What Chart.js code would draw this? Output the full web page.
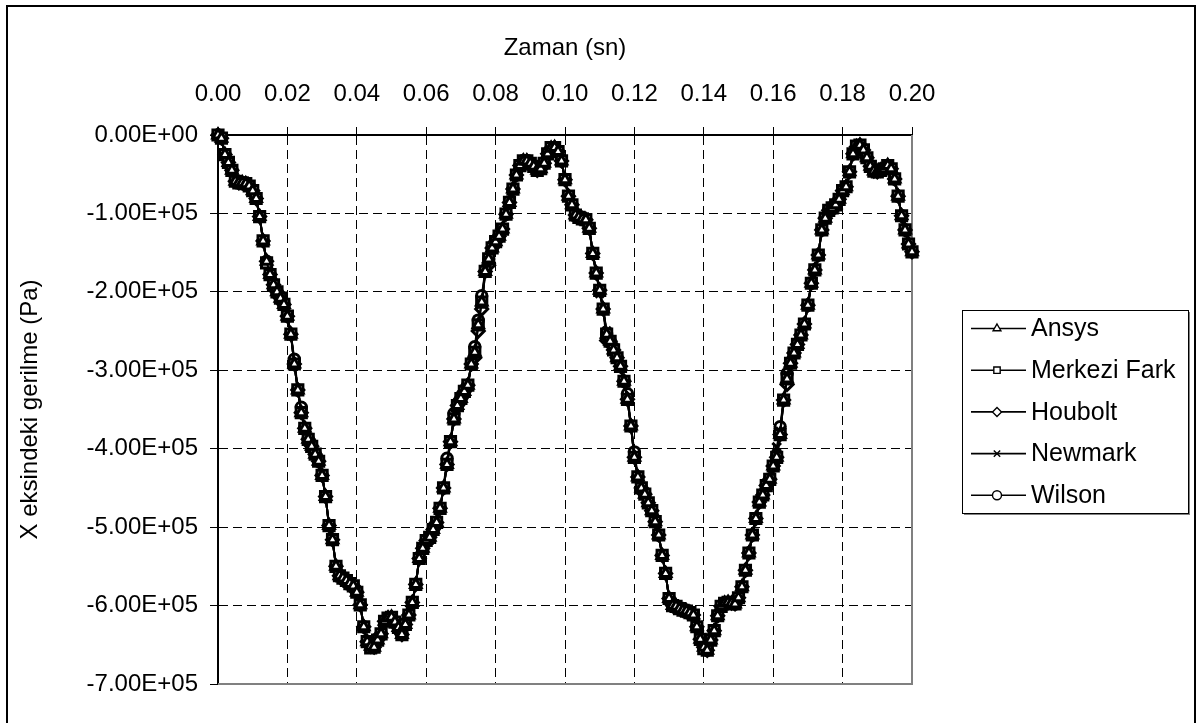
<!DOCTYPE html>
<html>
<head>
<meta charset="utf-8">
<script src="https://cdn.jsdelivr.net/npm/chart.js@4"></script>
<style>
  html, body { margin: 0; padding: 0; background: #fff; }
  #wrap { width: 1200px; height: 723px; position: relative; }
</style>
</head>
<body>
<div id="wrap"><canvas id="c" width="1200" height="723"></canvas></div>
<script>
const xTitle = 'Zaman (sn)';
const yTitle = 'X eksindeki gerilme (Pa)';
const xTickLabels = ['0.00','0.02','0.04','0.06','0.08','0.10','0.12','0.14','0.16','0.18','0.20'];
const yTickLabels = ['0.00E+00','-1.00E+05','-2.00E+05','-3.00E+05','-4.00E+05','-5.00E+05','-6.00E+05','-7.00E+05'];
const seriesNames = ['Ansys','Merkezi Fark','Houbolt','Newmark','Wilson'];
const markerStyles = ['triangle','rect','rectRot','crossRot','circle'];

// time (s), one sample every 0.001 s
const times = [
  0.000,0.001,0.002,0.003,0.004,0.005,0.006,0.007,0.008,0.009,
  0.010,0.011,0.012,0.013,0.014,0.015,0.016,0.017,0.018,0.019,
  0.020,0.021,0.022,0.023,0.024,0.025,0.026,0.027,0.028,0.029,
  0.030,0.031,0.032,0.033,0.034,0.035,0.036,0.037,0.038,0.039,
  0.040,0.041,0.042,0.043,0.044,0.045,0.046,0.047,0.048,0.049,
  0.050,0.051,0.052,0.053,0.054,0.055,0.056,0.057,0.058,0.059,
  0.060,0.061,0.062,0.063,0.064,0.065,0.066,0.067,0.068,0.069,
  0.070,0.071,0.072,0.073,0.074,0.075,0.076,0.077,0.078,0.079,
  0.080,0.081,0.082,0.083,0.084,0.085,0.086,0.087,0.088,0.089,
  0.090,0.091,0.092,0.093,0.094,0.095,0.096,0.097,0.098,0.099,
  0.100,0.101,0.102,0.103,0.104,0.105,0.106,0.107,0.108,0.109,
  0.110,0.111,0.112,0.113,0.114,0.115,0.116,0.117,0.118,0.119,
  0.120,0.121,0.122,0.123,0.124,0.125,0.126,0.127,0.128,0.129,
  0.130,0.131,0.132,0.133,0.134,0.135,0.136,0.137,0.138,0.139,
  0.140,0.141,0.142,0.143,0.144,0.145,0.146,0.147,0.148,0.149,
  0.150,0.151,0.152,0.153,0.154,0.155,0.156,0.157,0.158,0.159,
  0.160,0.161,0.162,0.163,0.164,0.165,0.166,0.167,0.168,0.169,
  0.170,0.171,0.172,0.173,0.174,0.175,0.176,0.177,0.178,0.179,
  0.180,0.181,0.182,0.183,0.184,0.185,0.186,0.187,0.188,0.189,
  0.190,0.191,0.192,0.193,0.194,0.195,0.196,0.197,0.198,0.199,
  0.200
];

const ansys = [
  0,-4000,-25000,-35000,-45000,-59000,-61000,-61000,-62000,-65000,
  -71000,-81000,-104000,-135000,-161000,-178000,-191000,-200000,-208000,-216000,
  -231000,-254000,-292000,-325000,-354000,-374000,-388000,-397000,-407000,-416000,
  -434000,-461000,-498000,-516000,-550000,-562000,-565000,-568000,-572000,-575000,
  -583000,-599000,-627000,-646000,-652000,-653000,-644000,-636000,-620000,-616000,
  -615000,-621000,-628000,-637000,-624000,-612000,-596000,-573000,-540000,-527000,
  -517000,-513000,-503000,-494000,-476000,-450000,-420000,-391000,-362000,-345000,
  -336000,-327000,-319000,-292000,-277000,-242000,-213000,-174000,-158000,-144000,
  -136000,-129000,-120000,-101000,-86000,-69000,-51000,-39000,-33000,-33000,
  -36000,-40000,-45000,-43000,-36000,-24000,-17000,-16000,-21000,-33000,
  -57000,-78000,-89000,-102000,-105000,-107000,-108000,-119000,-151000,-176000,
  -198000,-222000,-254000,-263000,-274000,-284000,-295000,-314000,-337000,-371000,
  -411000,-436000,-450000,-458000,-469000,-479000,-493000,-510000,-536000,-559000,
  -591000,-600000,-601000,-604000,-606000,-607000,-609000,-612000,-627000,-643000,
  -653000,-657000,-644000,-632000,-613000,-601000,-597000,-596000,-597000,-598000,
  -590000,-576000,-555000,-533000,-510000,-489000,-468000,-459000,-447000,-439000,
  -422000,-411000,-382000,-338000,-311000,-291000,-278000,-267000,-255000,-241000,
  -217000,-189000,-172000,-153000,-121000,-106000,-96000,-93000,-89000,-82000,
  -71000,-66000,-47000,-24000,-15000,-13000,-19000,-29000,-40000,-46000,
  -47000,-45000,-43000,-39000,-43000,-56000,-78000,-103000,-121000,-139000,
  -149000
];
const merkeziFark = [
  0,-4000,-25000,-35000,-45000,-59000,-61000,-61000,-62000,-65000,
  -71000,-81000,-104000,-135000,-163000,-178000,-191000,-200000,-208000,-216000,
  -231000,-254000,-292000,-325000,-354000,-374000,-388000,-397000,-407000,-416000,
  -434000,-461000,-498000,-516000,-550000,-562000,-565000,-568000,-572000,-575000,
  -583000,-599000,-627000,-646000,-654000,-653000,-644000,-636000,-620000,-616000,
  -615000,-621000,-628000,-637000,-624000,-612000,-596000,-573000,-540000,-527000,
  -517000,-513000,-503000,-494000,-476000,-450000,-420000,-391000,-362000,-345000,
  -336000,-327000,-319000,-292000,-277000,-242000,-213000,-174000,-158000,-144000,
  -136000,-129000,-120000,-101000,-86000,-69000,-51000,-39000,-33000,-33000,
  -36000,-40000,-45000,-43000,-36000,-24000,-16000,-16000,-21000,-33000,
  -57000,-78000,-89000,-102000,-105000,-107000,-108000,-119000,-151000,-176000,
  -198000,-222000,-254000,-263000,-274000,-284000,-295000,-314000,-337000,-371000,
  -411000,-436000,-450000,-458000,-469000,-479000,-493000,-510000,-536000,-559000,
  -591000,-600000,-601000,-604000,-606000,-607000,-609000,-612000,-627000,-643000,
  -655000,-657000,-644000,-632000,-613000,-601000,-597000,-596000,-597000,-598000,
  -590000,-576000,-555000,-533000,-510000,-489000,-468000,-459000,-447000,-439000,
  -422000,-411000,-382000,-338000,-311000,-291000,-278000,-267000,-255000,-241000,
  -217000,-189000,-172000,-153000,-121000,-106000,-96000,-93000,-89000,-82000,
  -71000,-66000,-47000,-24000,-14000,-13000,-19000,-29000,-40000,-46000,
  -47000,-45000,-43000,-39000,-43000,-56000,-78000,-103000,-121000,-139000,
  -149000
];
const houbolt = [
  0,-4000,-25000,-35000,-45000,-59000,-61000,-61000,-62000,-65000,
  -71000,-81000,-104000,-135000,-161000,-178000,-191000,-200000,-208000,-216000,
  -231000,-254000,-292000,-325000,-354000,-374000,-388000,-397000,-407000,-416000,
  -434000,-461000,-498000,-516000,-550000,-562000,-565000,-568000,-572000,-575000,
  -583000,-599000,-627000,-646000,-652000,-653000,-644000,-636000,-620000,-616000,
  -615000,-621000,-628000,-637000,-624000,-612000,-596000,-573000,-540000,-527000,
  -517000,-513000,-503000,-494000,-476000,-450000,-420000,-391000,-362000,-345000,
  -336000,-327000,-319000,-292000,-284000,-250000,-222000,-174000,-166000,-144000,
  -136000,-129000,-120000,-101000,-86000,-69000,-51000,-39000,-33000,-33000,
  -36000,-40000,-45000,-43000,-36000,-24000,-17000,-16000,-21000,-33000,
  -57000,-78000,-89000,-102000,-105000,-107000,-108000,-119000,-151000,-176000,
  -198000,-222000,-262000,-263000,-274000,-284000,-295000,-314000,-337000,-371000,
  -411000,-436000,-450000,-458000,-469000,-479000,-493000,-510000,-536000,-559000,
  -591000,-600000,-601000,-604000,-606000,-607000,-609000,-612000,-627000,-643000,
  -653000,-657000,-644000,-632000,-613000,-601000,-597000,-596000,-597000,-598000,
  -590000,-576000,-555000,-533000,-510000,-489000,-468000,-459000,-447000,-439000,
  -422000,-411000,-382000,-338000,-318000,-291000,-278000,-267000,-255000,-241000,
  -217000,-189000,-172000,-153000,-121000,-106000,-96000,-93000,-89000,-82000,
  -71000,-66000,-47000,-24000,-15000,-13000,-19000,-29000,-40000,-46000,
  -47000,-45000,-43000,-39000,-43000,-56000,-78000,-103000,-121000,-139000,
  -149000
];
const newmark = [
  0,-4000,-25000,-35000,-45000,-59000,-61000,-61000,-62000,-65000,
  -71000,-81000,-104000,-135000,-161000,-178000,-191000,-200000,-208000,-216000,
  -231000,-254000,-292000,-325000,-354000,-374000,-388000,-397000,-407000,-416000,
  -434000,-461000,-498000,-516000,-550000,-562000,-565000,-568000,-572000,-575000,
  -583000,-599000,-627000,-646000,-652000,-653000,-644000,-636000,-620000,-616000,
  -615000,-621000,-628000,-637000,-624000,-612000,-596000,-573000,-540000,-527000,
  -517000,-513000,-503000,-494000,-476000,-450000,-420000,-391000,-362000,-345000,
  -336000,-327000,-319000,-292000,-277000,-242000,-220000,-174000,-158000,-144000,
  -136000,-129000,-120000,-101000,-86000,-69000,-51000,-39000,-33000,-33000,
  -36000,-40000,-45000,-43000,-36000,-24000,-17000,-16000,-21000,-33000,
  -57000,-78000,-89000,-102000,-105000,-107000,-108000,-119000,-151000,-176000,
  -202000,-222000,-250000,-263000,-270000,-284000,-295000,-314000,-337000,-371000,
  -411000,-436000,-450000,-458000,-469000,-479000,-493000,-510000,-536000,-559000,
  -591000,-600000,-601000,-604000,-606000,-607000,-609000,-612000,-627000,-643000,
  -653000,-657000,-644000,-632000,-613000,-601000,-597000,-596000,-597000,-598000,
  -590000,-576000,-555000,-533000,-510000,-489000,-468000,-459000,-447000,-439000,
  -422000,-398000,-378000,-338000,-305000,-291000,-278000,-267000,-255000,-241000,
  -217000,-189000,-172000,-153000,-121000,-106000,-96000,-93000,-89000,-82000,
  -71000,-66000,-47000,-24000,-15000,-13000,-19000,-29000,-40000,-46000,
  -47000,-45000,-43000,-39000,-43000,-56000,-78000,-103000,-121000,-139000,
  -149000
];
const wilson = [
  0,-4000,-25000,-35000,-45000,-59000,-61000,-61000,-62000,-65000,
  -71000,-81000,-104000,-135000,-161000,-178000,-191000,-200000,-208000,-216000,
  -231000,-254000,-286000,-325000,-347000,-374000,-388000,-397000,-407000,-416000,
  -434000,-461000,-498000,-516000,-550000,-562000,-565000,-568000,-572000,-575000,
  -583000,-599000,-627000,-646000,-652000,-653000,-644000,-636000,-620000,-616000,
  -615000,-621000,-628000,-637000,-624000,-612000,-596000,-573000,-540000,-527000,
  -517000,-513000,-503000,-494000,-476000,-450000,-412000,-391000,-355000,-345000,
  -336000,-327000,-319000,-292000,-270000,-236000,-205000,-174000,-158000,-144000,
  -136000,-129000,-120000,-101000,-86000,-69000,-51000,-39000,-33000,-33000,
  -36000,-40000,-45000,-43000,-36000,-24000,-17000,-16000,-21000,-33000,
  -57000,-78000,-89000,-102000,-105000,-107000,-108000,-119000,-151000,-176000,
  -198000,-222000,-254000,-263000,-274000,-284000,-295000,-314000,-330000,-371000,
  -404000,-436000,-450000,-458000,-469000,-479000,-493000,-510000,-536000,-559000,
  -591000,-600000,-601000,-604000,-606000,-607000,-609000,-612000,-627000,-643000,
  -653000,-657000,-644000,-632000,-613000,-601000,-597000,-596000,-597000,-598000,
  -590000,-576000,-555000,-533000,-510000,-489000,-468000,-459000,-447000,-439000,
  -422000,-411000,-372000,-338000,-304000,-291000,-278000,-267000,-255000,-241000,
  -217000,-189000,-172000,-153000,-121000,-106000,-96000,-93000,-89000,-82000,
  -71000,-66000,-47000,-24000,-15000,-13000,-19000,-29000,-40000,-46000,
  -47000,-45000,-43000,-39000,-43000,-56000,-78000,-103000,-121000,-139000,
  -149000
];
const seriesValues = [ansys, merkeziFark, houbolt, newmark, wilson];

const FONT = 'Liberation Sans, Arial, sans-serif';
const markerRadius = [6, 7.2, 6, 6, 5.2];

const datasets = seriesNames.map((name, i) => ({
  label: name,
  data: times.map((t, k) => ({ x: t, y: seriesValues[i][k] })),
  borderColor: '#000',
  borderWidth: 2,
  pointStyle: markerStyles[i],
  pointRadius: markerRadius[i],
  pointBorderWidth: 3,
  pointBackgroundColor: '#fff',
  pointBorderColor: '#000',
  tension: 0,
  clip: 9
}));

const framePlugin = {
  id: 'framePlugin',
  beforeDatasetsDraw(chart) {
    const { ctx, chartArea: a } = chart;
    ctx.save();
    ctx.strokeStyle = '#808080';
    ctx.lineWidth = 2;
    ctx.beginPath();
    ctx.moveTo(a.right, a.top);
    ctx.lineTo(a.right, a.bottom);
    ctx.lineTo(a.left, a.bottom);
    ctx.stroke();
    ctx.restore();
  },
  afterDraw(chart) {
    const { ctx } = chart;
    ctx.save();
    ctx.strokeStyle = '#000';
    ctx.lineWidth = 2;
    ctx.strokeRect(7, 6, 1188, 730);
    const lx = 962, ly = 310, lw = 226, lh = 203;
    ctx.fillStyle = '#fff';
    ctx.fillRect(lx, ly, lw, lh);
    ctx.strokeStyle = '#808080';
    ctx.lineWidth = 2;
    ctx.beginPath();
    ctx.moveTo(lx + lw + 1, ly + 2);
    ctx.lineTo(lx + lw + 1, ly + lh + 1);
    ctx.lineTo(lx + 2, ly + lh + 1);
    ctx.stroke();
    ctx.strokeStyle = '#000';
    ctx.lineWidth = 1;
    ctx.strokeRect(lx + 0.5, ly + 0.5, lw, lh);
    const step = 41.7;
    const y0 = ly + 18.5;
    chart.data.datasets.forEach((ds, i) => {
      const y = y0 + i * step;
      ctx.strokeStyle = '#000';
      ctx.lineWidth = 1.6;
      ctx.beginPath();
      ctx.moveTo(971, y);
      ctx.lineTo(1026, y);
      ctx.stroke();
      ctx.fillStyle = '#fff';
      ctx.strokeStyle = '#000';
      ctx.lineWidth = 1.4;
      Chart.helpers.drawPoint(ctx, { pointStyle: ds.pointStyle, radius: 4.5, rotation: 0, borderWidth: 1.4 }, 997, y);
      ctx.fillStyle = '#000';
      ctx.font = '25px ' + FONT;
      ctx.textBaseline = 'middle';
      ctx.textAlign = 'left';
      ctx.fillText(ds.label, 1031, y + 1);
    });
    ctx.restore();
  }
};

new Chart(document.getElementById('c'), {
  type: 'line',
  data: { datasets },
  plugins: [framePlugin],
  options: {
    responsive: false,
    animation: false,
    devicePixelRatio: 1,
    layout: { padding: { left: 8, top: 8, right: 288, bottom: 39 } },
    plugins: { legend: { display: false }, tooltip: { enabled: false } },
    scales: {
      x: {
        type: 'linear',
        position: 'top',
        min: 0, max: 0.2,
        afterFit: s => { s.height = 127; },
        ticks: {
          stepSize: 0.02, autoSkip: false, maxRotation: 0,
          callback: v => xTickLabels[Math.round(v / 0.02)],
          font: { family: FONT, size: 24 }, color: '#000', padding: 18
        },
        grid: { color: '#000', lineWidth: 1, tickLength: 8, borderDash: [9, 5], tickBorderDash: [] },
        border: { display: true, color: '#000', width: 2, dash: [9, 5] },
        title: { display: true, text: xTitle, color: '#000', font: { family: FONT, size: 24 }, padding: { top: 26, bottom: 0 } }
      },
      y: {
        type: 'linear',
        position: 'left',
        min: -700000, max: 0,
        afterFit: s => { s.width = 210; },
        ticks: {
          stepSize: 100000, autoSkip: false,
          callback: v => yTickLabels[Math.round(-v / 100000)],
          font: { family: FONT, size: 24 }, color: '#000', padding: 12
        },
        grid: { color: '#000', lineWidth: 1, tickLength: 8, borderDash: [9, 5], tickBorderDash: [] },
        border: { display: true, color: '#000', width: 2, dash: [9, 5] },
        title: { display: true, text: yTitle, color: '#000', font: { family: FONT, size: 24 }, padding: { top: 8, bottom: 0 } }
      }
    }
  }
});
</script>
</body>
</html>
